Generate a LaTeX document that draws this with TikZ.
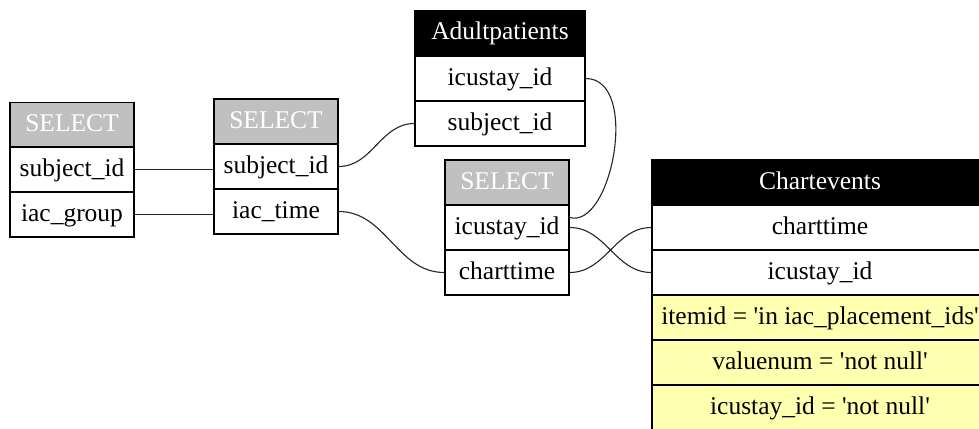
\documentclass[tikz,border=0pt]{standalone}
\usepackage{fontspec}
\newfontfamily\tabfont{Liberation Serif}
\definecolor{hdrgray}{RGB}{192,192,192}
\definecolor{rowyellow}{RGB}{255,255,176}
\tikzset{
  cell/.style={draw=black, line width=1.2pt, inner sep=0pt, fill=white,
    font=\tabfont\fontsize{25.5}{30}\selectfont, text height=19pt, text depth=6pt,
    minimum height=45pt},
  grayhdr/.style={cell, fill=hdrgray, text=white},
  blackhdr/.style={cell, fill=black, text=white},
  yrow/.style={cell, fill=rowyellow},
  link/.style={draw=black!85, line width=1.1pt},
}
\begin{document}
\begin{tikzpicture}[x=1pt,y=-1pt]
\useasboundingbox (0,0) rectangle (979,428);
\clip (0,0) rectangle (979,428);
% Table 1
\node[grayhdr, minimum width=124pt] (t1h) at (72,125) {SELECT};
\node[cell, minimum width=124pt] (t1a) at (72,169.5) {subject\_id};
\node[cell, minimum width=124pt] (t1b) at (72,214.5) {iac\_group};
% Table 2
\node[grayhdr, minimum width=124pt] (t2h) at (276,121.5) {SELECT};
\node[cell, minimum width=124pt] (t2a) at (276,166.5) {subject\_id};
\node[cell, minimum width=124pt] (t2b) at (276,211.5) {iac\_time};
% Adultpatients
\node[blackhdr, minimum width=170pt] (aph) at (500,33.5) {Adultpatients};
\node[cell, minimum width=170pt] (apa) at (500,78.5) {icustay\_id};
\node[cell, minimum width=170pt] (apb) at (500,123.5) {subject\_id};
% Table 3
\node[grayhdr, minimum width=124pt] (t3h) at (507,182.5) {SELECT};
\node[cell, minimum width=124pt] (t3a) at (507,227.5) {icustay\_id};
\node[cell, minimum width=124pt] (t3b) at (507,272.5) {charttime};
% Chartevents
\node[blackhdr, minimum width=336pt] (ceh) at (820,182.5) {Chartevents};
\node[cell, minimum width=336pt] (cea) at (820,227.5) {charttime};
\node[cell, minimum width=336pt] (ceb) at (820,272.5) {icustay\_id};
\node[yrow, minimum width=336pt] (cec) at (820,317.5) {itemid = 'in iac\_placement\_ids'};
\node[yrow, minimum width=336pt] (ced) at (820,362.5) {valuenum = 'not null'};
\node[yrow, minimum width=336pt] (cee) at (820,407.5) {icustay\_id = 'not null'};
% connectors
\draw[link] (t1a.east) -- (t1a.east -| t2a.west);
\draw[link] (t1b.east) -- (t1b.east -| t2b.west);
\draw[link] (t2a.east) to[out=0,in=180] (apb.west);
\draw[link] (t2b.east) to[out=0,in=180] (t3b.west);
\draw[link] (apa.east) .. controls +(55,0) and +(42,12) .. ([yshift=10pt]t3a.east);
\draw[link] (t3a.east) to[out=0,in=180] (ceb.west);
\draw[link] (t3b.east) to[out=0,in=180] (cea.west);
\end{tikzpicture}
\end{document}
